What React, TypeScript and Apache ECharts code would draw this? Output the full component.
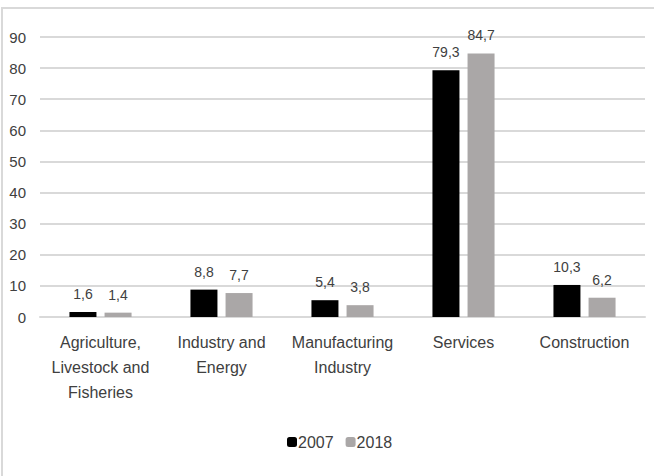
import React, { useEffect, useRef } from "react";
import * as echarts from "echarts";

const categories = [
  "Agriculture,\nLivestock and\nFisheries",
  "Industry and\nEnergy",
  "Manufacturing\nIndustry",
  "Services",
  "Construction",
];
const values2007 = [1.6, 8.8, 5.4, 79.3, 10.3];
const values2018 = [1.4, 7.7, 3.8, 84.7, 6.2];
const seriesNames = ["2007", "2018"];

const FONT = "'Liberation Sans Narrow', 'Arial Narrow', 'Liberation Sans', sans-serif";
const TXT = "#404040";

export default function App() {
  const ref = useRef<HTMLDivElement>(null);
  useEffect(() => {
    const chart = echarts.init(ref.current!, undefined, { renderer: "svg" });
    const label = {
      show: true,
      position: "top" as const,
      distance: 11,
      color: TXT,
      fontFamily: FONT,
      fontSize: 14,
      formatter: (p: any) => String(p.value).replace(".", ","),
    };
    chart.setOption({
      animation: false,
      backgroundColor: "#fff",
      textStyle: { fontFamily: FONT },
      graphic: [
        {
          type: "rect",
          shape: { x: 2, y: 8, width: 700, height: 500 },
          style: { fill: "none", stroke: "#d9d9d9", lineWidth: 2 },
          silent: true,
        },
      ],
      grid: { left: 40, right: 9, top: 37, bottom: 159 },
      legend: {
        bottom: 21,
        left: 282,
        itemWidth: 10,
        itemHeight: 10,
        itemGap: 12,
        textStyle: { color: TXT, fontFamily: FONT, fontSize: 16, padding: [0, 0, 0, -4] },
        data: seriesNames,
      },
      xAxis: {
        type: "category",
        data: categories,
        axisLine: { show: true, lineStyle: { color: "#d9d9d9", width: 2 } },
        axisTick: { show: false },
        axisLabel: {
          color: TXT,
          fontFamily: FONT,
          fontSize: 16,
          lineHeight: 25,
          margin: 13,
          interval: 0,
        },
      },
      yAxis: {
        type: "value",
        min: 0,
        max: 90,
        interval: 10,
        axisLine: { show: false },
        axisTick: { show: false },
        axisLabel: { color: TXT, fontFamily: FONT, fontSize: 15, margin: 14 },
        splitLine: { lineStyle: { color: "#d9d9d9", width: 2 } },
      },
      series: [
        {
          name: seriesNames[0],
          type: "bar",
          data: values2007,
          barWidth: 27,
          barGap: "30%",
          itemStyle: { color: "#000000" },
          label,
        },
        {
          name: seriesNames[1],
          type: "bar",
          data: values2018,
          barWidth: 27,
          itemStyle: { color: "#aaa7a7" },
          label,
        },
      ],
    });
    return () => chart.dispose();
  }, []);
  return (
    <div
      ref={ref}
      style={{ position: "absolute", left: 0, top: 0, width: 654, height: 476 }}
    />
  );
}
